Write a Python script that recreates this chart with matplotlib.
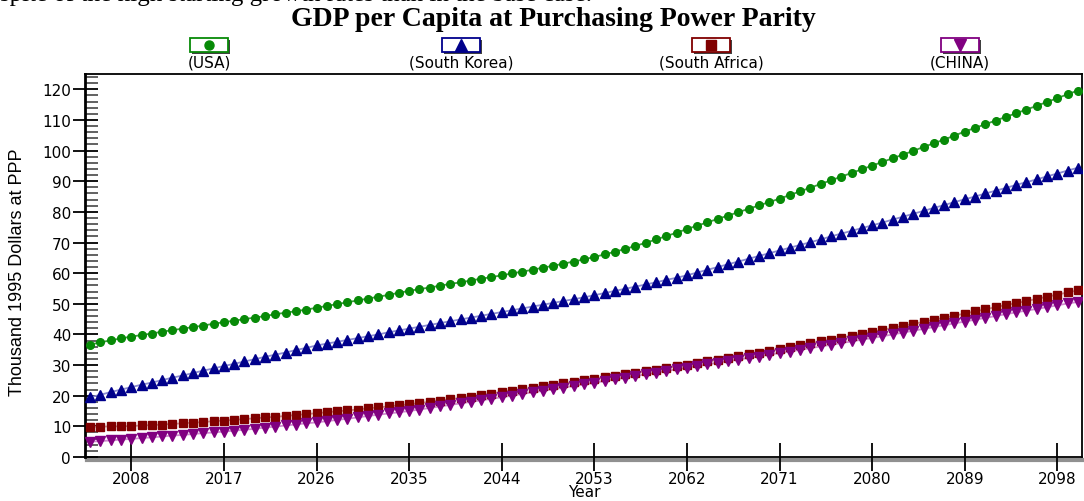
import numpy as np
import matplotlib
matplotlib.use('Agg')
import matplotlib.pyplot as plt
import matplotlib.transforms as mtransforms
from matplotlib.patches import Rectangle

# data (thousand 1995 dollars at PPP), one value a year
years = list(range(2004, 2101))

usa = [36.7, 37.4, 38.1, 38.7, 39.3, 39.8, 40.3, 40.9, 41.4, 41.9,
       42.4, 42.9, 43.5, 44.0, 44.5, 45.0, 45.5, 46.0, 46.6, 47.1,
       47.6, 48.1, 48.7, 49.3, 49.9, 50.5, 51.1, 51.7, 52.3, 52.9,
       53.6, 54.2, 54.8, 55.3, 55.9, 56.5, 57.0, 57.6, 58.2, 58.7,
       59.3, 59.9, 60.5, 61.1, 61.8, 62.4, 63.1, 63.8, 64.5, 65.3,
       66.1, 67.0, 67.9, 68.9, 69.9, 71.0, 72.1, 73.2, 74.4, 75.5,
       76.6, 77.7, 78.8, 79.9, 81.0, 82.1, 83.2, 84.3, 85.5, 86.7,
       87.9, 89.1, 90.3, 91.5, 92.7, 93.9, 95.1, 96.3, 97.5, 98.7,
       99.9, 101.2, 102.4, 103.6, 104.9, 106.2, 107.4, 108.6, 109.8, 111.0,
       112.2, 113.4, 114.6, 115.9, 117.1, 118.4, 119.6]

south_korea = [19.5, 20.3, 21.2, 22.0, 22.8, 23.6, 24.3, 25.1, 25.9, 26.6,
               27.4, 28.2, 28.9, 29.7, 30.4, 31.2, 31.9, 32.7, 33.4, 34.1,
               34.9, 35.6, 36.4, 37.0, 37.6, 38.2, 38.8, 39.4, 40.0, 40.7,
               41.3, 41.9, 42.5, 43.1, 43.7, 44.3, 44.9, 45.5, 46.1, 46.7,
               47.3, 47.9, 48.5, 49.1, 49.7, 50.3, 50.9, 51.5, 52.1, 52.8,
               53.5, 54.2, 54.9, 55.6, 56.3, 57.0, 57.8, 58.5, 59.3, 60.2,
               61.1, 62.0, 62.9, 63.8, 64.7, 65.6, 66.5, 67.4, 68.3, 69.2,
               70.1, 71.0, 72.0, 72.9, 73.8, 74.7, 75.6, 76.5, 77.5, 78.4,
               79.4, 80.3, 81.3, 82.2, 83.2, 84.1, 85.0, 86.0, 86.9, 87.8,
               88.8, 89.7, 90.6, 91.6, 92.5, 93.5, 94.4]

south_africa = [9.9, 9.9, 10.0, 10.0, 10.1, 10.3, 10.4, 10.6, 10.8, 11.0,
                11.2, 11.4, 11.7, 11.9, 12.1, 12.4, 12.6, 12.9, 13.1, 13.4,
                13.7, 14.0, 14.3, 14.6, 14.9, 15.2, 15.5, 15.9, 16.2, 16.5,
                16.9, 17.2, 17.6, 18.0, 18.4, 18.8, 19.3, 19.7, 20.2, 20.7,
                21.2, 21.7, 22.1, 22.6, 23.1, 23.6, 24.0, 24.5, 25.0, 25.5,
                26.0, 26.5, 27.0, 27.5, 28.0, 28.5, 29.1, 29.6, 30.1, 30.7,
                31.2, 31.8, 32.4, 33.0, 33.5, 34.1, 34.7, 35.3, 35.9, 36.5,
                37.1, 37.7, 38.3, 38.9, 39.6, 40.2, 40.8, 41.5, 42.1, 42.8,
                43.4, 44.1, 44.8, 45.4, 46.1, 46.8, 47.5, 48.2, 48.9, 49.6,
                50.2, 50.9, 51.6, 52.3, 53.0, 53.7, 54.4]

china = [5.0, 5.2, 5.4, 5.7, 5.9, 6.2, 6.4, 6.7, 7.0, 7.2,
         7.5, 7.8, 8.0, 8.3, 8.6, 8.9, 9.2, 9.6, 9.9, 10.3,
         10.6, 11.0, 11.3, 11.7, 12.1, 12.5, 12.9, 13.4, 13.8, 14.2,
         14.6, 15.0, 15.5, 16.0, 16.5, 17.0, 17.5, 18.0, 18.5, 19.0,
         19.5, 20.0, 20.6, 21.1, 21.6, 22.1, 22.6, 23.2, 23.7, 24.2,
         24.8, 25.3, 25.9, 26.4, 27.0, 27.5, 28.1, 28.6, 29.2, 29.7,
         30.2, 30.8, 31.3, 31.8, 32.3, 32.8, 33.4, 33.9, 34.4, 35.0,
         35.5, 36.1, 36.6, 37.2, 37.7, 38.3, 38.8, 39.4, 40.0, 40.6,
         41.2, 41.8, 42.4, 43.0, 43.6, 44.2, 44.8, 45.4, 46.0, 46.6,
         47.2, 47.8, 48.3, 48.9, 49.5, 50.1, 50.6]

labels = ['(USA)', '(South Korea)', '(South Africa)', '(CHINA)']
tick_years = list(range(2008, 2099, 9))
y_ticks = list(range(0, 121, 10))

# style per series: marker colour, line colour, marker, size
styles = [
    ('#078a07', '#3a9a3a', 'o', 5.5),
    ('#00008b', '#8a8ad0', '^', 7.5),
    ('#800000', '#d09090', 's', 5.5),
    ('#800080', '#d08ad0', 'v', 7.5),
]

plt.rcParams['font.family'] = ['DejaVu Sans']

fig = plt.figure(figsize=(10.84, 5.02), dpi=100)
ax = fig.add_axes([85 / 1084, 1 - 458 / 502, (1082 - 85) / 1084, (458 - 75) / 502])

for series, (mc, lc, mk, ms) in zip([usa, south_korea, south_africa, china], styles):
    ax.plot(years, series, color=lc, lw=1.3, zorder=2)
    ax.plot(years, series, ls='none', marker=mk, ms=ms, color=mc, mec=mc, zorder=3)

ax.set_xlim(2003.5, 2100.4)
ax.set_ylim(0, 125)
ax.set_xticks(tick_years)
ax.set_yticks(y_ticks)
ax.set_yticks(np.arange(0, 125, 2), minor=True)
ax.tick_params(axis='x', direction='inout', length=20, width=1.3, labelsize=11, pad=0)
ax.tick_params(axis='y', which='major', direction='inout', length=18, width=1.3, labelsize=11, pad=1)
ax.tick_params(axis='y', which='minor', direction='in', length=9, width=1.3, color='#555555')
for s in ax.spines.values():
    s.set_linewidth(1.3)
ax.spines['left'].set_linewidth(2)

# grey shadow under the bottom axis
shadow = mtransforms.offset_copy(ax.transAxes, fig=fig, x=2, y=-2.5, units='dots')
ax.plot([0, 1], [0, 0], color='#909090', lw=3, transform=shadow, clip_on=False, zorder=0)

fig.text(584 / 1084, 1 - 493 / 502, 'Year', ha='center', va='center', fontsize=11)
fig.text(18 / 1084, 1 - 272 / 502, 'Thousand 1995 Dollars at PPP', ha='center', va='center',
         rotation=90, fontsize=13, family='Liberation Sans')

# clipped line of the surrounding page text, only its lower edge shows
fig.text(0.0, 1 - 1.5 / 502, 'spite of the high starting growth rates than in the base case.',
         ha='left', va='baseline', fontsize=18, family='Liberation Serif')

fig.text(553 / 1084, 1 - 19 / 502, 'GDP per Capita at Purchasing Power Parity', ha='center',
         va='center', fontsize=20, fontweight='bold', family='Liberation Serif')

# legend boxes drawn in pixel space
lg = fig.add_axes([0, 0, 1, 1])
lg.set_xlim(0, 1084)
lg.set_ylim(502, 0)
lg.axis('off')
centers = [209, 461, 711, 960]
for cx, lab, (mc, lc, mk, ms) in zip(centers, labels, styles):
    lg.add_patch(Rectangle((cx - 17, 41), 38, 14, facecolor='#404040', edgecolor='none'))
    lg.add_patch(Rectangle((cx - 19, 39), 38, 14, facecolor='white', edgecolor=mc, lw=1.3))
    lg.plot([cx], [46], marker=mk, ms=ms + 1, color=mc, ls='none')
    lg.text(cx, 63, lab, ha='center', va='center', fontsize=11)

fig.savefig('out.png', dpi=100)
